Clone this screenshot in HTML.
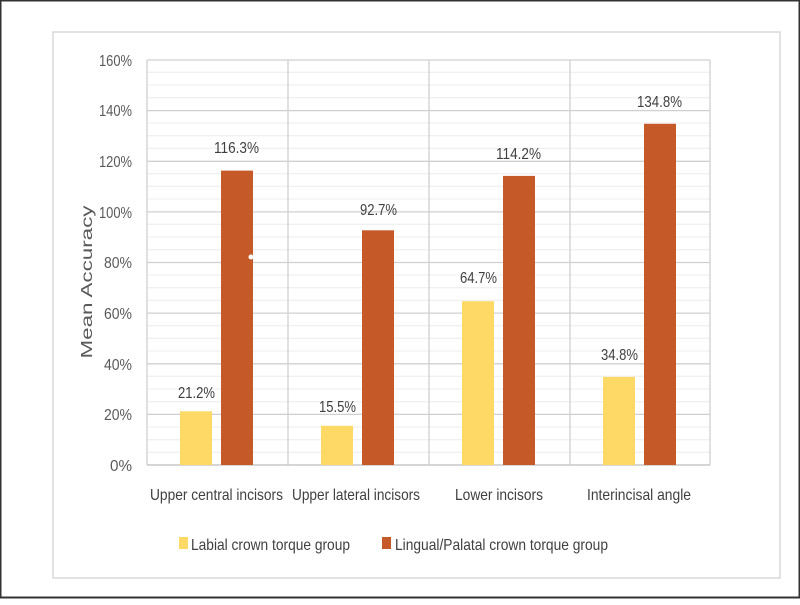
<!DOCTYPE html>
<html><head><style>body{margin:0;background:#fff}</style></head><body>
<svg width="800" height="600" xmlns="http://www.w3.org/2000/svg" font-family="'Liberation Sans',sans-serif">
<rect x="0" y="0" width="800" height="600" fill="#fff"/>
<rect x="0.5" y="0.5" width="799" height="597" fill="none" stroke="#333" stroke-width="2"/>
<rect x="53" y="32" width="727" height="546" fill="none" stroke="#d9d9d9" stroke-width="1.5"/>
<g stroke="#ececec" stroke-width="1">
<line x1="147" x2="710" y1="452.3" y2="452.3"/><line x1="147" x2="710" y1="439.7" y2="439.7"/><line x1="147" x2="710" y1="427" y2="427"/>
<line x1="147" x2="710" y1="401.7" y2="401.7"/><line x1="147" x2="710" y1="389" y2="389"/><line x1="147" x2="710" y1="376.3" y2="376.3"/>
<line x1="147" x2="710" y1="351" y2="351"/><line x1="147" x2="710" y1="338.3" y2="338.3"/><line x1="147" x2="710" y1="325.7" y2="325.7"/>
<line x1="147" x2="710" y1="300.3" y2="300.3"/><line x1="147" x2="710" y1="287.7" y2="287.7"/><line x1="147" x2="710" y1="275" y2="275"/>
<line x1="147" x2="710" y1="249.7" y2="249.7"/><line x1="147" x2="710" y1="237" y2="237"/><line x1="147" x2="710" y1="224.3" y2="224.3"/>
<line x1="147" x2="710" y1="199" y2="199"/><line x1="147" x2="710" y1="186.3" y2="186.3"/><line x1="147" x2="710" y1="173.7" y2="173.7"/>
<line x1="147" x2="710" y1="148.3" y2="148.3"/><line x1="147" x2="710" y1="135.7" y2="135.7"/><line x1="147" x2="710" y1="123" y2="123"/>
<line x1="147" x2="710" y1="97.7" y2="97.7"/><line x1="147" x2="710" y1="85" y2="85"/><line x1="147" x2="710" y1="72.3" y2="72.3"/>
</g>
<g stroke="#d0d0d0" stroke-width="1.3">
<line x1="147" x2="710" y1="60" y2="60"/><line x1="147" x2="710" y1="110.6" y2="110.6"/><line x1="147" x2="710" y1="161.3" y2="161.3"/>
<line x1="147" x2="710" y1="211.9" y2="211.9"/><line x1="147" x2="710" y1="262.5" y2="262.5"/><line x1="147" x2="710" y1="313.1" y2="313.1"/>
<line x1="147" x2="710" y1="363.8" y2="363.8"/><line x1="147" x2="710" y1="414.4" y2="414.4"/>
<line x1="147" x2="147" y1="60" y2="465"/><line x1="288" x2="288" y1="60" y2="465"/><line x1="429" x2="429" y1="60" y2="465"/><line x1="570" x2="570" y1="60" y2="465"/><line x1="710" x2="710" y1="60" y2="465"/>
</g>
<line x1="147" x2="710" y1="465" y2="465" stroke="#c8c8c8" stroke-width="1.5"/>
<g fill="#595959" font-size="16">
<text x="110" y="471" textLength="22" lengthAdjust="spacingAndGlyphs">0%</text>
<text x="104" y="420" textLength="28" lengthAdjust="spacingAndGlyphs">20%</text>
<text x="104" y="370" textLength="28" lengthAdjust="spacingAndGlyphs">40%</text>
<text x="104" y="319" textLength="28" lengthAdjust="spacingAndGlyphs">60%</text>
<text x="104" y="268" textLength="28" lengthAdjust="spacingAndGlyphs">80%</text>
<text x="99" y="218" textLength="33" lengthAdjust="spacingAndGlyphs">100%</text>
<text x="99" y="167" textLength="33" lengthAdjust="spacingAndGlyphs">120%</text>
<text x="99" y="116" textLength="33" lengthAdjust="spacingAndGlyphs">140%</text>
<text x="99" y="66" textLength="33" lengthAdjust="spacingAndGlyphs">160%</text>
</g>
<text transform="translate(92,282) rotate(-90)" text-anchor="middle" font-size="16" fill="#595959" textLength="153" lengthAdjust="spacingAndGlyphs">Mean Accuracy</text>
<g fill="#ffd966">
<rect x="180" y="411.3" width="32" height="53.7"/><rect x="321" y="425.8" width="32" height="39.2"/><rect x="462" y="301.2" width="32" height="163.8"/><rect x="603" y="376.9" width="32" height="88.1"/>
</g>
<g fill="#c55a28">
<rect x="221" y="170.6" width="32" height="294.4"/><rect x="362" y="230.3" width="32" height="234.7"/><rect x="503" y="175.9" width="32" height="289.1"/><rect x="644" y="123.8" width="32" height="341.2"/>
</g>
<g fill="#404040" font-size="16">
<text x="178" y="398" textLength="37" lengthAdjust="spacingAndGlyphs">21.2%</text>
<text x="214" y="153" textLength="45" lengthAdjust="spacingAndGlyphs">116.3%</text>
<text x="319" y="412" textLength="37" lengthAdjust="spacingAndGlyphs">15.5%</text>
<text x="360" y="215" textLength="37" lengthAdjust="spacingAndGlyphs">92.7%</text>
<text x="460" y="283" textLength="37" lengthAdjust="spacingAndGlyphs">64.7%</text>
<text x="496" y="159" textLength="45" lengthAdjust="spacingAndGlyphs">114.2%</text>
<text x="601" y="360" textLength="37" lengthAdjust="spacingAndGlyphs">34.8%</text>
<text x="637" y="107" textLength="45" lengthAdjust="spacingAndGlyphs">134.8%</text>
</g>
<circle cx="251" cy="257" r="2.5" fill="#fff"/>
<g fill="#404040" font-size="16">
<text x="150" y="500" textLength="133" lengthAdjust="spacingAndGlyphs">Upper central incisors</text>
<text x="292" y="500" textLength="128" lengthAdjust="spacingAndGlyphs">Upper lateral incisors</text>
<text x="455" y="500" textLength="88" lengthAdjust="spacingAndGlyphs">Lower incisors</text>
<text x="587" y="500" textLength="104" lengthAdjust="spacingAndGlyphs">Interincisal angle</text>
</g>
<rect x="179" y="537" width="9" height="12" fill="#ffd966"/>
<text x="191" y="550" fill="#404040" font-size="16" textLength="159" lengthAdjust="spacingAndGlyphs">Labial crown torque group</text>
<rect x="382" y="537" width="9" height="12" fill="#c55a28"/>
<text x="395" y="550" fill="#404040" font-size="16" textLength="213" lengthAdjust="spacingAndGlyphs">Lingual/Palatal crown torque group</text>
</svg>
</body></html>
